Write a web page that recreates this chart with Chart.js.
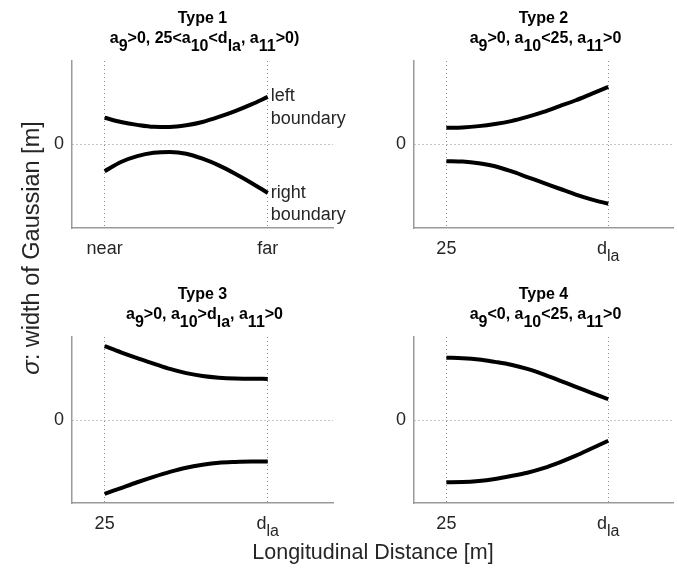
<!DOCTYPE html>
<html>
<head>
<meta charset="utf-8">
<script src="https://cdn.jsdelivr.net/npm/chart.js@4.4.1/dist/chart.umd.min.js"></script>
<style>
  html, body { margin: 0; padding: 0; background: #fff; }
  #wrap { position: relative; width: 678px; height: 568px; }
  #wrap canvas { position: absolute; left: 0; top: 0; }
</style>
</head>
<body>
<div id="wrap">
  <canvas id="p1" width="678" height="568"></canvas>
  <canvas id="p2" width="678" height="568"></canvas>
  <canvas id="p3" width="678" height="568"></canvas>
  <canvas id="p4" width="678" height="568"></canvas>
</div>
<script>
// sample positions along the distance axis (0 = near / 25, 1 = far / d_la)
const xs = [0, 0.1, 0.2, 0.3, 0.4, 0.5, 0.6, 0.7, 0.8, 0.9, 1];

// boundary curves
const type1Left  = [0.32, 0.27, 0.235, 0.212, 0.21, 0.23, 0.27, 0.33, 0.40, 0.48, 0.57];
const type1Right = [-0.32, -0.21, -0.14, -0.10, -0.09, -0.11, -0.17, -0.25, -0.35, -0.46, -0.58];
const type2Left  = [0.20, 0.205, 0.22, 0.245, 0.28, 0.33, 0.39, 0.46, 0.53, 0.61, 0.69];
const type2Right = [-0.20, -0.205, -0.225, -0.26, -0.32, -0.39, -0.46, -0.53, -0.60, -0.66, -0.71];
const type3Left  = [0.89, 0.815, 0.745, 0.68, 0.615, 0.565, 0.53, 0.51, 0.50, 0.497, 0.495];
const type3Right = [-0.89, -0.82, -0.75, -0.685, -0.625, -0.575, -0.54, -0.515, -0.505, -0.50, -0.50];
const type4Left  = [0.75, 0.745, 0.73, 0.70, 0.665, 0.615, 0.55, 0.475, 0.40, 0.325, 0.25];
const type4Right = [-0.75, -0.748, -0.735, -0.71, -0.675, -0.635, -0.58, -0.51, -0.43, -0.34, -0.25];

const titles = ["Type 1", "Type 2", "Type 3", "Type 4"];
const conditions = [
  "a_{9}>0, 25<a_{10}<d_{la}, a_{11}>0)",
  "a_{9}>0, a_{10}<25, a_{11}>0",
  "a_{9}>0, a_{10}>d_{la}, a_{11}>0",
  "a_{9}<0, a_{10}<25, a_{11}>0"
];
const xTickLabels = [["near", "far"], ["25", "d_{la}"], ["25", "d_{la}"], ["25", "d_{la}"]];
const xTickValues = [0, 1];
const yTickValues = [0];

const FONT = '"Liberation Sans", Arial, Helvetica, sans-serif';

// draws text where _{...} is a subscript
function richText(ctx, str, x, y, size, subSize, weight, align, subDrop) {
  const parts = str.split(/_\{([^}]*)\}/);
  const fMain = `${weight} ${size}px ${FONT}`;
  const fSub = `${weight} ${subSize}px ${FONT}`;
  let w = 0;
  parts.forEach((p, i) => {
    ctx.font = i % 2 ? fSub : fMain;
    w += ctx.measureText(p).width;
  });
  let cx = align === "center" ? x - w / 2 : x;
  ctx.textAlign = "left";
  ctx.textBaseline = "alphabetic";
  parts.forEach((p, i) => {
    ctx.font = i % 2 ? fSub : fMain;
    ctx.fillText(p, cx, i % 2 ? y + subDrop : y);
    cx += ctx.measureText(p).width;
  });
}

const textPlugin = {
  id: "panelText",
  afterDraw(chart, args, opts) {
    const { ctx, chartArea: a } = chart;
    const xs_ = chart.scales.x, ys_ = chart.scales.y;
    const cx = (a.left + a.right) / 2;
    ctx.save();
    // titles
    ctx.fillStyle = "#000";
    richText(ctx, opts.title, cx, a.top - 38, 16, 15, "bold", "center", 8);
    richText(ctx, opts.cond, cx + 2, a.top - 18, 16, 16, "bold", "center", 8);
    // tick labels
    ctx.fillStyle = "#262626";
    xTickValues.forEach((v, i) => {
      richText(ctx, opts.xticks[i], xs_.getPixelForValue(v), a.bottom + 26, 18, 16, "normal", "center", 7);
    });
    ctx.font = `18px ${FONT}`;
    ctx.textAlign = "right";
    ctx.textBaseline = "middle";
    yTickValues.forEach(v => ctx.fillText(String(v), a.left - 8, ys_.getPixelForValue(v)));
    // curve annotations
    if (opts.notes) {
      ctx.textAlign = "left";
      ctx.font = `18px ${FONT}`;
      const px = xs_.getPixelForValue(1) + 3;
      const yl = ys_.getPixelForValue(type1Left[type1Left.length - 1]);
      const yr = ys_.getPixelForValue(type1Right[type1Right.length - 1]);
      ctx.fillText("left", px, yl - 1);
      ctx.fillText("boundary", px, yl + 22);
      ctx.fillText("right", px, yr);
      ctx.fillText("boundary", px, yr + 22);
    }
    // shared axis labels
    if (opts.shared) {
      ctx.fillStyle = "#262626";
      ctx.textBaseline = "alphabetic";
      ctx.textAlign = "center";
      ctx.font = `21.5px ${FONT}`;
      ctx.fillText("Longitudinal Distance [m]", 373, 559);
      ctx.translate(39, 248);
      ctx.rotate(-Math.PI / 2);
      const rest = ": width of Gaussian [m]";
      ctx.font = `italic 24px ${FONT}`;
      const w1 = ctx.measureText("σ").width;
      ctx.font = `23.5px ${FONT}`;
      const w2 = ctx.measureText(rest).width;
      ctx.textAlign = "left";
      ctx.font = `italic 24px ${FONT}`;
      ctx.fillText("σ", -(w1 + w2) / 2, 0);
      ctx.font = `23.5px ${FONT}`;
      ctx.fillText(rest, -(w1 + w2) / 2 + w1, 0);
    }
    ctx.restore();
  }
};

function makePanel(id, area, left, right, idx, extra) {
  const line = (vals) => ({
    data: xs.map((x, i) => ({ x: x, y: vals[i] })),
    borderColor: "#000",
    borderWidth: 4,
    pointRadius: 0,
    cubicInterpolationMode: "monotone",
    fill: false
  });
  return new Chart(document.getElementById(id), {
    type: "line",
    data: { datasets: [line(left), line(right)] },
    options: {
      responsive: false,
      animation: false,
      events: [],
      layout: {
        padding: { left: area[0], top: area[1], right: 678 - area[2], bottom: 568 - area[3] }
      },
      plugins: {
        legend: { display: false },
        tooltip: { enabled: false },
        panelText: Object.assign({
          title: titles[idx],
          cond: conditions[idx],
          xticks: xTickLabels[idx]
        }, extra)
      },
      scales: {
        x: {
          type: "linear",
          min: -0.2,
          max: 1.4,
          afterBuildTicks: s => { s.ticks = xTickValues.map(v => ({ value: v })); },
          ticks: { display: false },
          grid: { drawTicks: false, color: "#8c8c8c", lineWidth: 1 },
          border: { color: "#9a9a9a", width: 1.5, dash: [1, 3] }
        },
        y: {
          type: "linear",
          min: -1,
          max: 1,
          afterBuildTicks: s => { s.ticks = yTickValues.map(v => ({ value: v })); },
          ticks: { display: false },
          grid: { drawTicks: false, color: "#8c8c8c", lineWidth: 1 },
          border: { color: "#9a9a9a", width: 1.5, dash: [1, 3] }
        }
      }
    },
    plugins: [textPlugin]
  });
}

makePanel("p1", [72, 61, 333, 228], type1Left, type1Right, 0, { notes: true, shared: true });
makePanel("p2", [414, 61, 673, 228], type2Left, type2Right, 1, {});
makePanel("p3", [72, 337, 333, 503], type3Left, type3Right, 2, {});
makePanel("p4", [414, 337, 673, 503], type4Left, type4Right, 3, {});
</script>
</body>
</html>
